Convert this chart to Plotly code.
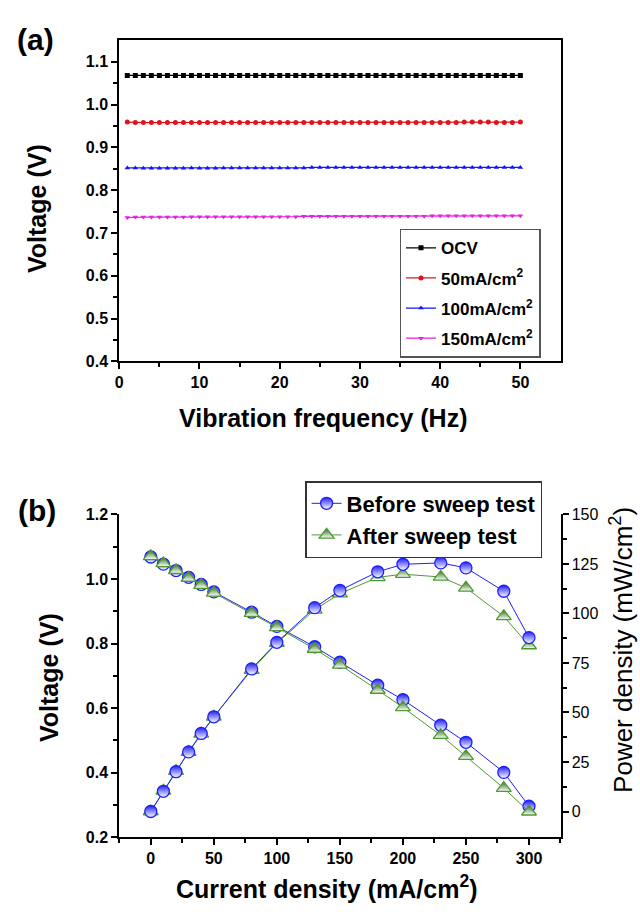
import plotly.graph_objects as go

W, H = 640, 912
FONT = "Liberation Sans, Arial, sans-serif"

# ---------------- Panel (a) data ----------------
freq = list(range(1, 51))
ocv = [1.068, 1.068, 1.068, 1.068, 1.068, 1.068, 1.068, 1.068, 1.068, 1.068,
       1.068, 1.068, 1.068, 1.068, 1.068, 1.068, 1.068, 1.068, 1.068, 1.068,
       1.068, 1.068, 1.068, 1.068, 1.068, 1.068, 1.068, 1.068, 1.068, 1.068,
       1.068, 1.068, 1.068, 1.068, 1.068, 1.068, 1.068, 1.068, 1.068, 1.068,
       1.068, 1.068, 1.068, 1.068, 1.068, 1.068, 1.068, 1.068, 1.068, 1.068]
v50 = [0.959, 0.958, 0.958, 0.958, 0.958, 0.958, 0.958, 0.958, 0.958, 0.958,
       0.958, 0.958, 0.958, 0.958, 0.958, 0.958, 0.958, 0.958, 0.958, 0.958,
       0.958, 0.958, 0.958, 0.958, 0.958, 0.958, 0.958, 0.958, 0.958, 0.958,
       0.958, 0.958, 0.958, 0.958, 0.958, 0.958, 0.958, 0.958, 0.958, 0.958,
       0.958, 0.958, 0.959, 0.959, 0.959, 0.959, 0.958, 0.958, 0.958, 0.959]
v100 = [0.852, 0.852, 0.851, 0.851, 0.851, 0.851, 0.851, 0.851, 0.852, 0.851,
        0.851, 0.851, 0.852, 0.852, 0.852, 0.852, 0.852, 0.852, 0.852, 0.852,
        0.852, 0.852, 0.852, 0.853, 0.853, 0.853, 0.853, 0.853, 0.853, 0.853,
        0.853, 0.853, 0.853, 0.853, 0.853, 0.853, 0.853, 0.853, 0.853, 0.853,
        0.853, 0.853, 0.853, 0.853, 0.853, 0.853, 0.853, 0.853, 0.853, 0.853]
v150 = [0.736, 0.737, 0.737, 0.737, 0.737, 0.737, 0.737, 0.737, 0.738, 0.738,
        0.738, 0.738, 0.738, 0.738, 0.738, 0.738, 0.738, 0.738, 0.738, 0.738,
        0.738, 0.738, 0.739, 0.739, 0.739, 0.739, 0.739, 0.739, 0.739, 0.739,
        0.739, 0.739, 0.739, 0.739, 0.739, 0.739, 0.739, 0.739, 0.740, 0.740,
        0.740, 0.740, 0.740, 0.740, 0.740, 0.740, 0.740, 0.740, 0.740, 0.740]
names_a = ["OCV", "50mA/cm<sup>2</sup>", "100mA/cm<sup>2</sup>", "150mA/cm<sup>2</sup>"]
colors_a = ["#000000", "#E0141E", "#1414FF", "#E61EE6"]
symbols_a = ["square", "circle", "triangle-up", "triangle-down"]

# ---------------- Panel (b) data ----------------
current = [0, 10, 20, 30, 40, 50, 80, 100, 130, 150, 180, 200, 230, 250, 280, 300]
volt_before = [1.068, 1.046, 1.026, 1.005, 0.983, 0.960, 0.897, 0.853, 0.790, 0.742,
               0.671, 0.626, 0.547, 0.494, 0.401, 0.296]
volt_after = [1.070, 1.048, 1.027, 1.003, 0.981, 0.957, 0.894, 0.850, 0.783, 0.734,
              0.656, 0.602, 0.516, 0.451, 0.352, 0.279]
power_before = [0.0, 10.2, 20.1, 30.1, 39.4, 47.8, 72.0, 85.4, 102.9, 111.6,
                121.0, 124.8, 125.5, 123.0, 111.2, 87.8]
power_after = [0.0, 10.4, 20.4, 30.0, 39.2, 47.8, 71.4, 85.0, 101.8, 110.0,
               118.2, 119.8, 118.4, 112.9, 98.5, 83.8]


def px(p):
    return p / W


def py(p):
    return 1 - p / H


fig = go.Figure()

# Panel (a) traces
for i, (name, ys) in enumerate(zip(names_a, [ocv, v50, v100, v150])):
    fig.add_trace(go.Scatter(
        x=freq, y=ys, mode="lines+markers", name=name,
        line=dict(color=colors_a[i], width=1.3),
        marker=dict(symbol=symbols_a[i], size=5, color=colors_a[i]),
        xaxis="x", yaxis="y", legend="legend", legendgroup="a%d" % i,
    ))

blue = "#1E1EFF"
green_line = "#4E9A32"
green_dark = "#2E6A18"

# half-filled look: coloured top, white bottom (vertical gradient)
circle_marker = dict(symbol="circle", size=12, color=blue,
                     gradient=dict(type="vertical", color="white"),
                     line=dict(color=blue, width=1.3))
tri_marker = dict(symbol="triangle-up", size=13, color=green_dark,
                  gradient=dict(type="vertical", color="white"),
                  line=dict(color=green_line, width=1.3))

# Panel (b) traces: voltage (left axis) and power (right axis)
fig.add_trace(go.Scatter(
    x=current, y=volt_before, mode="lines+markers", name="Before sweep test",
    line=dict(color=blue, width=1), marker=circle_marker,
    xaxis="x2", yaxis="y2", legend="legend2",
))
fig.add_trace(go.Scatter(
    x=current, y=volt_after, mode="lines+markers", name="After sweep test",
    line=dict(color=green_line, width=1), marker=tri_marker,
    xaxis="x2", yaxis="y2", legend="legend2",
))
fig.add_trace(go.Scatter(
    x=current, y=power_after, mode="lines+markers", name="After sweep test",
    line=dict(color=green_line, width=1), marker=tri_marker,
    xaxis="x2", yaxis="y3", showlegend=False,
))
fig.add_trace(go.Scatter(
    x=current, y=power_before, mode="lines+markers", name="Before sweep test",
    line=dict(color=blue, width=1), marker=circle_marker,
    xaxis="x2", yaxis="y3", showlegend=False,
))

tickfont_b = dict(family=FONT, size=16, color="black", weight="bold")
minor_out = dict(ticklen=4, ticks="outside", tickcolor="black", tickwidth=1.5)
axis_common = dict(showline=True, linecolor="black", linewidth=2, ticks="outside",
                   ticklen=6, tickwidth=1.5, tickcolor="black", showgrid=False,
                   zeroline=False, tickfont=tickfont_b)

fig.update_layout(
    width=W, height=H, margin=dict(l=0, r=0, t=0, b=0),
    paper_bgcolor="white", plot_bgcolor="white",
    font=dict(family=FONT, color="black"),
    xaxis=dict(domain=[px(116), px(560)], range=[0, 55], anchor="y",
               tickvals=[0, 10, 20, 30, 40, 50], mirror=True,
               minor=dict(tickvals=[5, 15, 25, 35, 45], **minor_out),
               **axis_common),
    yaxis=dict(domain=[py(360), py(33)], range=[0.4, 1.15], anchor="x",
               tickvals=[0.4, 0.5, 0.6, 0.7, 0.8, 0.9, 1.0, 1.1], tickformat=".1f",
               mirror=True,
               minor=dict(tickvals=[0.45, 0.55, 0.65, 0.75, 0.85, 0.95, 1.05], **minor_out),
               **axis_common),
    xaxis2=dict(domain=[px(116), px(560)], range=[-25, 325], anchor="y2",
                tickvals=[0, 50, 100, 150, 200, 250, 300],
                minor=dict(tickvals=[-25, 25, 75, 125, 175, 225, 275, 325], **minor_out),
                **axis_common),
    xaxis3=dict(domain=[px(116), px(560)], range=[-25, 325], anchor="y2",
                overlaying="x2", side="top", showline=True, linecolor="black",
                linewidth=2, ticks="inside", ticklen=6, tickwidth=1.5,
                tickcolor="black", showticklabels=False, showgrid=False,
                zeroline=False, tickvals=[0, 50, 100, 150, 200, 250, 300],
                minor=dict(tickvals=[25, 75, 125, 175, 225, 275], ticklen=4,
                           ticks="inside", tickcolor="black", tickwidth=1.5)),
    yaxis2=dict(domain=[py(845), py(516)], range=[0.2, 1.2], anchor="x2",
                tickvals=[0.2, 0.4, 0.6, 0.8, 1.0, 1.2], tickformat=".1f",
                minor=dict(tickvals=[0.3, 0.5, 0.7, 0.9, 1.1], **minor_out),
                **axis_common),
    yaxis3=dict(domain=[py(845), py(516)], range=[-13, 150], anchor="x2",
                overlaying="y2", side="right", showline=True, linecolor="black",
                linewidth=2, ticks="outside", ticklen=6, tickwidth=1.5,
                tickcolor="black", showgrid=False, zeroline=False,
                tickvals=[0, 25, 50, 75, 100, 125, 150],
                tickfont=dict(family=FONT, size=16, color="black"),
                minor=dict(tickvals=[12.5, 37.5, 62.5, 87.5, 112.5, 137.5], **minor_out)),
    legend=dict(x=px(398), y=py(225), xanchor="left", yanchor="top",
                bgcolor="white", bordercolor="#555555", borderwidth=1.5,
                font=dict(family=FONT, size=17, color="black", weight="bold"),
                tracegroupgap=5, traceorder="grouped", itemwidth=30),
    legend2=dict(x=px(303), y=py(482), xanchor="left", yanchor="top",
                 bgcolor="white", bordercolor="#333333", borderwidth=1.5,
                 font=dict(family=FONT, size=22, color="black", weight="bold"),
                 itemwidth=30, tracegroupgap=0),
)

title_font = dict(family=FONT, size=25, color="black", weight="bold")
label_font = dict(family=FONT, size=30, color="black", weight="bold")
annots = [
    dict(text="(a)", x=px(32), y=py(32), font=label_font),
    dict(text="(b)", x=px(33), y=py(512), font=label_font),
    dict(text="Voltage (V)", x=px(33), y=py(204), textangle=-90, font=title_font),
    dict(text="Vibration frequency (Hz)", x=px(321), y=py(418), font=title_font),
    dict(text="Voltage (V)", x=px(46), y=py(682), textangle=-90, font=title_font),
    dict(text="Current density (mA/cm<sup>2</sup>)", x=px(325), y=py(896), font=title_font),
    dict(text="Power density (mW/cm<sup>2</sup>)", x=px(622), y=py(654), textangle=-90,
         font=dict(family=FONT, size=26, color="black")),
]
for a in annots:
    a.update(xref="paper", yref="paper", showarrow=False, xanchor="center", yanchor="middle")
fig.update_layout(annotations=annots)

fig.write_html("out.html")
